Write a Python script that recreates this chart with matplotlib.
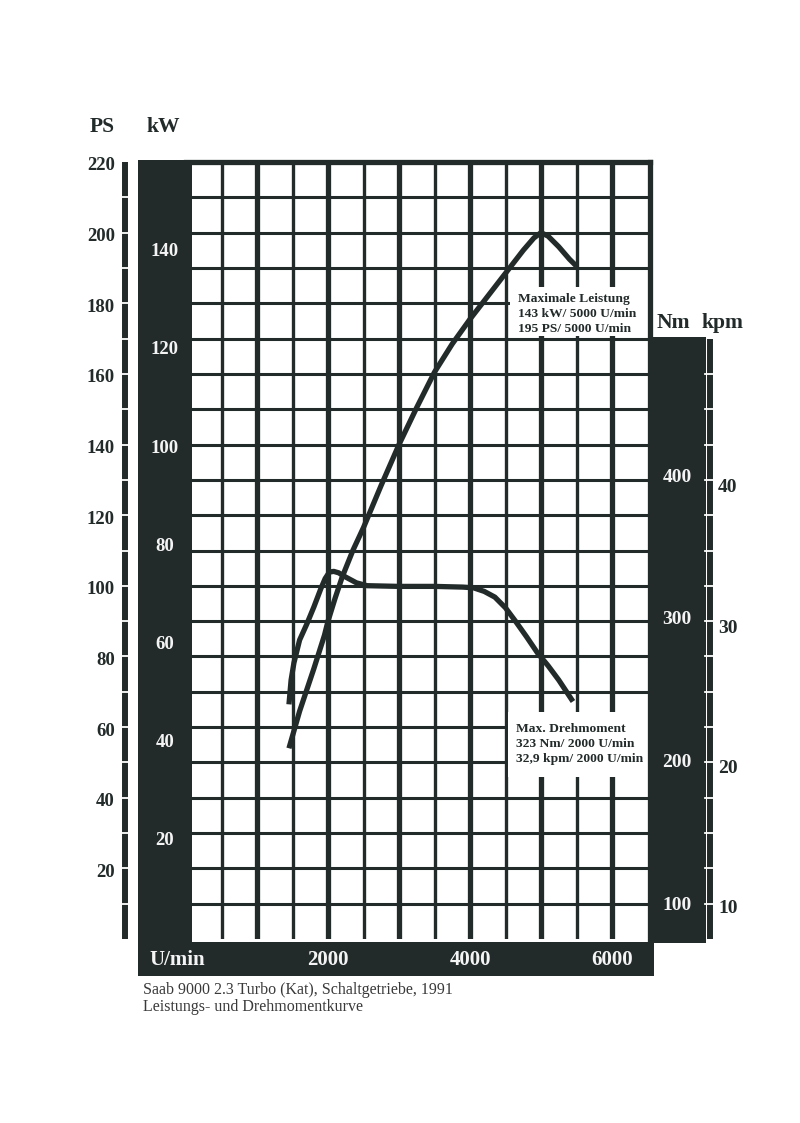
import matplotlib
matplotlib.use("Agg")
import matplotlib.pyplot as plt
from matplotlib.patches import Rectangle
from matplotlib.lines import Line2D
from matplotlib.transforms import blended_transform_factory, offset_copy

plt.rcParams['font.family'] = ['Liberation Serif', 'DejaVu Serif']

# Leistungskurve (PS über U/min)
power_rpm = [1450, 1600, 1800, 1950, 2000, 2100, 2200, 2350, 2500, 2750,
             3000, 3250, 3500, 3750, 4000, 4250, 4500, 4750, 4900, 5000,
             5100, 5250, 5400, 5500]
power_ps = [54, 64.5, 76.5, 86, 90, 96.5, 102.5, 110, 116.5, 128.5,
            140, 150.5, 160.5, 168.5, 175.5, 182, 188.5, 195, 198.5, 200,
            199, 196, 192.5, 190.5]

# Drehmomentkurve (Nm über U/min)
torque_rpm = [1450, 1480, 1520, 1600, 1700, 1800, 1900, 1960, 2020, 2080,
              2150, 2250, 2400, 2550, 3000, 3500, 3900, 4050, 4200, 4350,
              4500, 4650, 4800, 4950, 5100, 5250, 5450]
torque_nm = [241, 258, 270, 286, 297, 309, 322, 329, 333.5, 334,
             333, 330, 326, 324, 323.5, 323.5, 323, 322.5, 320, 316,
             308.5, 298.5, 288, 277, 268, 258, 243]

# Achsbeschriftungen
ps_ticks = [20, 40, 60, 80, 100, 120, 140, 160, 180, 200, 220]
kw_ticks = [20, 40, 60, 80, 100, 120, 140]
nm_ticks = [100, 200, 300, 400]
kpm_ticks = [10, 20, 30, 40]
rpm_ticks = [2000, 4000, 6000]

KW_SCALE = 1.39    # PS je kW, wie im Diagramm gedruckt
KPM_NM = 9.81

INK = '#222a2a'
PAPER = '#ffffff'
LIGHT = '#f4f4f4'

W, H = 800, 1123
fig = plt.figure(figsize=(W / 100, H / 100), dpi=100)
fig.patch.set_facecolor(PAPER)


def fx(px):
    return px / W


def fy(py):
    return 1 - py / H


# Hauptdiagramm (Gitter)
ax = fig.add_axes([fx(186), fy(939), (650 - 186) / W, (939 - 162) / H])
ax.set_xlim(0, 6535)
ax.set_ylim(0, 220)
ax.set_xticks([])
ax.set_yticks([])
ax.patch.set_facecolor(PAPER)
for side in ['left', 'bottom']:
    ax.spines[side].set_visible(False)
for side in ['top', 'right']:
    ax.spines[side].set_linewidth(3.8)
    ax.spines[side].set_color(INK)

for r in range(500, 6500, 500):
    ax.axvline(r, color=INK, lw=3.8 if r % 1000 == 0 else 2.4, zorder=1)
for p in range(10, 220, 10):
    ax.axhline(p, color=INK, lw=2.2, zorder=1)

# weiße Beschriftungsfelder
ax.add_patch(Rectangle((4560, 170.6), 6535 - 4560, 184.5 - 170.6,
                       facecolor=PAPER, edgecolor='none', zorder=2))
ax.add_patch(Rectangle((4540, 46), 6535 - 4540, 64.3 - 46,
                       facecolor=PAPER, edgecolor='none', zorder=2))
ax.text(4670, 176.9, "Maximale Leistung\n143 kW/ 5000 U/min\n195 PS/ 5000 U/min",
        fontsize=9.7, fontweight='bold', color=INK, ha='left', va='center',
        linespacing=1.32, zorder=4)
ax.text(4645, 55.3, "Max. Drehmoment\n323 Nm/ 2000 U/min\n32,9 kpm/ 2000 U/min",
        fontsize=9.7, fontweight='bold', color=INK, ha='left', va='center',
        linespacing=1.32, zorder=4)

ax.plot(power_rpm, power_ps, color=INK, lw=3.8, solid_capstyle='butt',
        solid_joinstyle='round', zorder=3)

axn = ax.twinx()
axn.set_ylim(76.9, 620.3)
axn.set_yticks([])
for s in axn.spines.values():
    s.set_visible(False)
axn.plot(torque_rpm, torque_nm, color=INK, lw=3.8, solid_capstyle='butt',
         solid_joinstyle='round', zorder=3)

# schwarze Bänder
for x0, y0, x1, y1 in [(138, 160, 192, 942), (138, 942, 654, 976), (648, 337, 706, 943)]:
    fig.add_artist(Rectangle((fx(x0), fy(y1)), (x1 - x0) / W, (y1 - y0) / H,
                             transform=fig.transFigure, facecolor=INK,
                             edgecolor='none', zorder=5))

blend_ps = blended_transform_factory(fig.transFigure, ax.transData)
blend_nm = blended_transform_factory(fig.transFigure, axn.transData)
blend_rpm = blended_transform_factory(ax.transData, fig.transFigure)

# PS-Skala links
fig.add_artist(Line2D([fx(125), fx(125)], [0, 220], transform=blend_ps,
                      color=INK, lw=4.3, solid_capstyle='butt', zorder=5))
for p in range(10, 220, 10):
    fig.add_artist(Line2D([fx(120), fx(130)], [p, p], transform=blend_ps,
                          color=PAPER, lw=1.3, zorder=6))
ps_tr = offset_copy(blend_ps, fig=fig, y=-4, units='dots')
for p in ps_ticks:
    fig.text(fx(115), p, str(p), transform=ps_tr, ha='right', va='center',
             fontsize=13.5, fontweight='bold', color=INK)

# kpm-Skala rechts
fig.add_artist(Line2D([fx(710), fx(710)], [0, 170], transform=blend_ps,
                      color=INK, lw=4.3, solid_capstyle='butt', zorder=5))
for p in range(10, 170, 10):
    fig.add_artist(Line2D([fx(705), fx(715)], [p, p], transform=blend_ps,
                          color=PAPER, lw=1.3, zorder=6))
for k in kpm_ticks:
    fig.text(fx(718), k * KPM_NM, str(k), transform=blend_nm, ha='left',
             va='center', fontsize=14, fontweight='bold', color=INK)

# Beschriftungen in den Bändern
for k in kw_ticks:
    fig.text(fx(165), k * KW_SCALE, str(k), transform=blend_ps, ha='center',
             va='center', fontsize=13.5, fontweight='bold', color=LIGHT, zorder=7)
for n in nm_ticks:
    fig.text(fx(677), n, str(n), transform=blend_nm, ha='center',
             va='center', fontsize=14, fontweight='bold', color=LIGHT, zorder=7)
for r in rpm_ticks:
    fig.text(r, fy(960), str(r), transform=blend_rpm, ha='center',
             va='center', fontsize=15, fontweight='bold', color=LIGHT, zorder=7)
fig.text(fx(149), fy(960), "U/min", ha='left', va='center', fontsize=15,
         fontweight='bold', color=LIGHT, zorder=7)

# Einheiten
for label, x, y in [("PS", 102, 127), ("kW", 163, 127), ("Nm", 673, 323), ("kpm", 722, 323)]:
    fig.text(fx(x), fy(y), label, ha='center', va='center', fontsize=15.5,
             fontweight='bold', color=INK)

# Bildunterschrift
fig.text(fx(143), fy(990), "Saab 9000 2.3 Turbo (Kat), Schaltgetriebe, 1991",
         ha='left', va='center', fontsize=11.5, color='#3a3a3a')
fig.text(fx(143), fy(1007), "Leistungs- und Drehmomentkurve",
         ha='left', va='center', fontsize=11.5, color='#3a3a3a')

fig.savefig("out.png", dpi=100)
